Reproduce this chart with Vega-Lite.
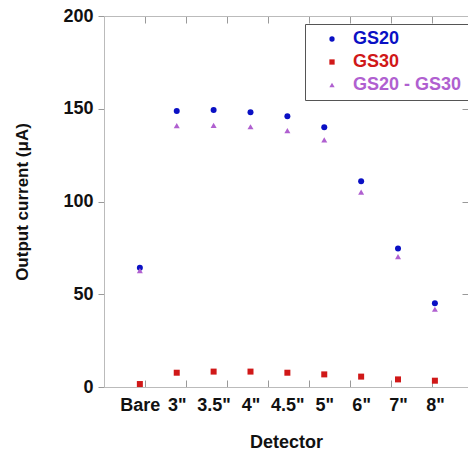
{
  "$schema": "https://vega.github.io/schema/vega-lite/v6.json",
  "width": 364,
  "height": 371,
  "autosize": "none",
  "padding": {"left": 104, "top": 16, "right": 0, "bottom": 63},
  "background": "white",
  "config": {"font": "Liberation Sans", "view": {"stroke": null}, "axis": {"grid": false}},
  "data": {"values": [
    {"detector": "Bare", "series": "GS20", "value": 64.3},
    {"detector": "3\"", "series": "GS20", "value": 148.8},
    {"detector": "3.5\"", "series": "GS20", "value": 149.3},
    {"detector": "4\"", "series": "GS20", "value": 148.1},
    {"detector": "4.5\"", "series": "GS20", "value": 145.9},
    {"detector": "5\"", "series": "GS20", "value": 140.0},
    {"detector": "6\"", "series": "GS20", "value": 110.9},
    {"detector": "7\"", "series": "GS20", "value": 74.6},
    {"detector": "8\"", "series": "GS20", "value": 45.1},
    {"detector": "Bare", "series": "GS30", "value": 1.6},
    {"detector": "3\"", "series": "GS30", "value": 7.7},
    {"detector": "3.5\"", "series": "GS30", "value": 8.3},
    {"detector": "4\"", "series": "GS30", "value": 8.3},
    {"detector": "4.5\"", "series": "GS30", "value": 7.7},
    {"detector": "5\"", "series": "GS30", "value": 6.8},
    {"detector": "6\"", "series": "GS30", "value": 5.6},
    {"detector": "7\"", "series": "GS30", "value": 4.1},
    {"detector": "8\"", "series": "GS30", "value": 3.4},
    {"detector": "Bare", "series": "GS20 - GS30", "value": 62.7},
    {"detector": "3\"", "series": "GS20 - GS30", "value": 140.9},
    {"detector": "3.5\"", "series": "GS20 - GS30", "value": 141.0},
    {"detector": "4\"", "series": "GS20 - GS30", "value": 140.3},
    {"detector": "4.5\"", "series": "GS20 - GS30", "value": 138.2},
    {"detector": "5\"", "series": "GS20 - GS30", "value": 133.2},
    {"detector": "6\"", "series": "GS20 - GS30", "value": 105.1},
    {"detector": "7\"", "series": "GS20 - GS30", "value": 70.3},
    {"detector": "8\"", "series": "GS20 - GS30", "value": 41.9}
  ]},
  "layer": [
    {
      "mark": {"type": "point", "filled": true, "opacity": 1, "size": 36},
      "encoding": {
        "x": {
          "field": "detector", "type": "nominal",
          "sort": ["Bare", "3\"", "3.5\"", "4\"", "4.5\"", "5\"", "6\"", "7\"", "8\""],
          "scale": {"type": "point", "padding": 0.935, "align": 0.52},
          "axis": {"orient": "bottom", "ticks": false, "domain": false, "labelAngle": 0,
            "labelFontSize": 18, "labelFontWeight": "bold", "labelColor": "#111", "labelPadding": 9,
            "title": "Detector", "titleFontSize": 18, "titleFontWeight": "bold", "titleColor": "#111", "titlePadding": 19}
        },
        "y": {
          "field": "value", "type": "quantitative",
          "scale": {"domain": [0, 200], "nice": false},
          "axis": {"orient": "left", "values": [0, 50, 100, 150, 200], "tickSize": 6, "tickColor": "#999",
            "domainColor": "#bbb", "labelPadding": 5, "labelFontSize": 18, "labelFontWeight": "bold", "labelColor": "#111",
            "title": "Output current (μA)", "titleFontSize": 17, "titleFontWeight": "bold", "titleColor": "#111", "titlePadding": 31}
        },
        "color": {
          "field": "series", "type": "nominal",
          "scale": {"domain": ["GS20", "GS30", "GS20 - GS30"], "range": ["#0a10c4", "#d01818", "#b060d0"]},
          "legend": {
            "orient": "none", "legendX": 201, "legendY": 8, "title": null,
            "strokeColor": "#555", "fillColor": "white",
            "padding": 6, "symbolOffset": 12, "labelOffset": 12,
            "labelFontSize": 18, "labelFontWeight": "bold", "labelLimit": 300,
            "labelColor": {"expr": "scale('color', datum.value)"},
            "symbolSize": 28, "rowPadding": 5,
            "encode": {
              "legend": {"update": {"strokeWidth": {"value": 1.5}}}
            }
          }
        },
        "shape": {
          "field": "series", "type": "nominal",
          "scale": {"domain": ["GS20", "GS30", "GS20 - GS30"], "range": ["circle", "square", "triangle-up"]}
        }
      }
    },
    {
      "mark": {"type": "point", "opacity": 0},
      "encoding": {
        "x": {"datum": 0, "type": "quantitative", "scale": {"domain": [0, 8.878], "nice": false, "zero": false},
          "axis": {"orient": "bottom", "values": [1, 2, 3, 4, 5, 6, 7, 8], "tickSize": -7, "labels": false, "title": null,
            "domainColor": "#bbb", "tickColor": "#999"}}
      }
    },
    {
      "mark": {"type": "point", "opacity": 0},
      "encoding": {
        "x": {"datum": 0, "type": "quantitative", "scale": {"domain": [0, 8.878], "nice": false, "zero": false},
          "axis": {"orient": "top", "values": [1, 2, 3, 4, 5, 6, 7, 8], "tickSize": -7, "labels": false, "title": null,
            "domainColor": "#bbb", "tickColor": "#999"}},
        "y": {"datum": 0, "type": "quantitative",
          "axis": {"orient": "right", "values": [50, 100, 150], "tickSize": -6, "labels": false, "title": null,
            "domain": false, "tickColor": "#999"}}
      }
    }
  ],
  "resolve": {"scale": {"x": "independent"}, "axis": {"x": "independent", "y": "independent"}}
}
